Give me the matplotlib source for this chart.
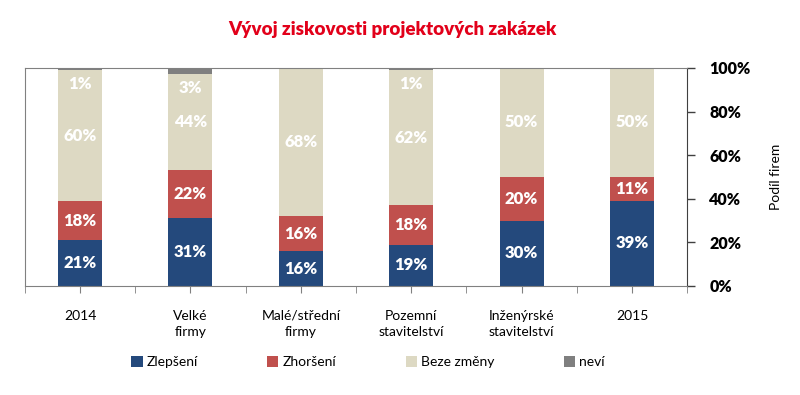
import numpy as np
import matplotlib.pyplot as plt
from matplotlib.patches import Patch
from matplotlib.ticker import MultipleLocator, FuncFormatter

plt.rcParams['font.family'] = ['Lato', 'DejaVu Sans']

categories = ['2014', 'Velké\nfirmy', 'Malé/střední\nfirmy', 'Pozemní\nstavitelství',
              'Inženýrské\nstavitelství', '2015']
zlepseni = [21, 31, 16, 19, 30, 39]
zhorseni = [18, 22, 16, 18, 20, 11]
beze_zmeny = [60, 44, 68, 62, 50, 50]
nevi = [1, 3, 0, 1, 0, 0]

series = [('Zlepšení', zlepseni, '#24497c'),
          ('Zhoršení', zhorseni, '#c0504d'),
          ('Beze změny', beze_zmeny, '#ddd9c3'),
          ('neví', nevi, '#7f7f7f')]

fig = plt.figure(figsize=(8, 3.95), dpi=100)
ax = fig.add_axes([0.031, 0.276, 0.828, 0.552])

x = np.arange(len(categories))
total = np.array(zlepseni) + np.array(zhorseni) + np.array(beze_zmeny) + np.array(nevi)
bottom = np.zeros(len(categories))
for name, vals, col in series:
    v = np.array(vals) / total * 100
    ax.bar(x, v, 0.4, bottom=bottom, color=col, edgecolor='none')
    for i in range(len(x)):
        if vals[i] == 0:
            continue
        if name == 'neví':
            ax.text(x[i], bottom[i] - 2.5, '%d%%' % vals[i], ha='center', va='top',
                    color='white', fontsize=12, fontweight='heavy')
        else:
            ax.text(x[i], bottom[i] + v[i] / 2, '%d%%' % vals[i], ha='center', va='center',
                    color='white', fontsize=12, fontweight='heavy')
    bottom += v

ax.set_xlim(-0.5, len(categories) - 0.5)
ax.set_ylim(0, 100)

ax.yaxis.tick_right()
ax.yaxis.set_label_position('right')
ax.yaxis.set_major_locator(MultipleLocator(20))
ax.yaxis.set_major_formatter(FuncFormatter(lambda v, p: '%d%%' % v))
ax.tick_params(axis='y', direction='out', length=6, width=1, color='#404040', pad=10,
               labelsize=11.5)
for lbl in ax.get_yticklabels():
    lbl.set_fontweight('heavy')
ax.set_ylabel('Podíl firem', fontsize=10, labelpad=14)

ax.set_xticks(x)
ax.set_xticklabels(categories, fontsize=10, linespacing=1.4)
ax.set_xticks(np.arange(-0.5, len(categories), 1.0), minor=True)
ax.tick_params(axis='x', which='both', direction='out', length=5, color='#808080', pad=12)

for s in ['left', 'bottom', 'top']:
    ax.spines[s].set_color('#808080')
ax.spines['right'].set_color('#404040')

fig.text(0.49, 0.925, 'Vývoj ziskovosti projektových zakázek', ha='center', va='center',
         fontsize=13.5, fontweight='heavy', color='#e2001a')

handles = [Patch(facecolor=c, edgecolor='none') for n, v, c in series]
fig.legend(handles, [n for n, v, c in series], loc='center', ncol=4,
           bbox_to_anchor=(0.46, 0.083), frameon=False, fontsize=10,
           handlelength=0.8, handleheight=0.8, handletextpad=0.3, columnspacing=5.0)

fig.savefig('out.png', dpi=100)
